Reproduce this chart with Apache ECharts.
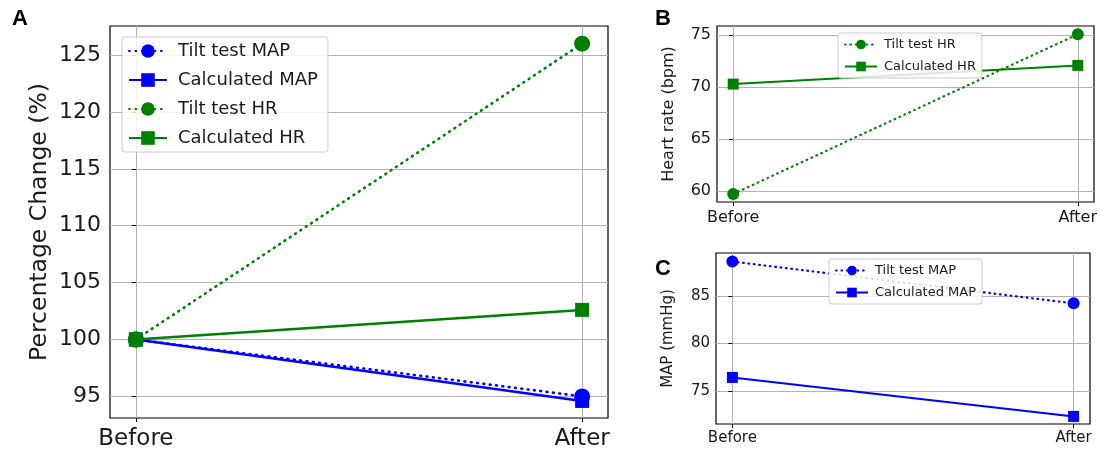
<!DOCTYPE html>
<html><head><meta charset="utf-8">
<script src="https://cdn.jsdelivr.net/npm/echarts@6/dist/echarts.min.js"></script>
<style>html,body{margin:0;padding:0;background:#fff}#c{width:1100px;height:458px}</style>
</head><body><div id="c"></div>
<script>
// ---- data ----
const categories = ['Before', 'After'];
const labelTiltMAP = 'Tilt test MAP';
const labelCalcMAP = 'Calculated MAP';
const labelTiltHR = 'Tilt test HR';
const labelCalcHR = 'Calculated HR';

// Panel A: percentage change (%)
const pctTiltMAP = [100, 95.0];
const pctCalcMAP = [100, 94.6];
const pctTiltHR  = [100, 126.0];
const pctCalcHR  = [100, 102.6];
const pctTicks = [95, 100, 105, 110, 115, 120, 125];

// Panel B: heart rate (bpm)
const hrTilt = [59.7, 75.1];
const hrCalc = [70.3, 72.1];
const hrTicks = [60, 65, 70, 75];

// Panel C: MAP (mmHg)
const mapTilt = [88.6, 84.2];
const mapCalc = [76.4, 72.3];
const mapTicks = [75, 80, 85];

// ---- styling ----
const FONT = 'DejaVu Sans';
const BLUE = '#0000ff', GREEN = '#008000';
const TXT = '#1a1a1a';

function pts(vals) { return vals.map((v, i) => [i, v]); }

function xAxisCfg(gridIndex, m, fontSize, margin) {
  return {
    type: 'value', gridIndex, min: -m, max: 1 + m,
    axisLine: { show: false },
    axisTick: { show: true, length: 4, customValues: [0, 1], lineStyle: { color: '#000' } },
    axisLabel: { customValues: [0, 1], formatter: v => categories[Math.round(v)], fontFamily: FONT, fontSize, color: TXT, margin },
    splitLine: { show: true, lineStyle: { color: '#b4b4b4', width: 1 } }
  };
}
function yAxisCfg(gridIndex, min, max, ticks, fontSize, margin, name, nameSize, nameGap) {
  return {
    type: 'value', gridIndex, min, max,
    axisLine: { show: false },
    axisTick: { show: true, length: 4, customValues: ticks, lineStyle: { color: '#000' } },
    axisLabel: { customValues: ticks, fontFamily: FONT, fontSize, color: TXT, margin },
    splitLine: { show: true, lineStyle: { color: '#b4b4b4', width: 1 } },
    name, nameLocation: 'middle', nameRotate: 90, nameGap,
    nameTextStyle: { fontFamily: FONT, fontSize: nameSize, color: TXT }
  };
}
function ser(id, grid, vals, color, dotted, symbol, size, width) {
  return {
    type: 'line', name: id, xAxisIndex: grid, yAxisIndex: grid, data: pts(vals),
    symbol, symbolSize: size, showSymbol: true,
    lineStyle: { color, width, type: dotted ? [width * 0.35, width * 2.1] : 'solid', cap: dotted ? 'round' : 'butt' },
    itemStyle: { color },
    z: 2, animation: false
  };
}
const labelOf = {};
function reg(id, label) { labelOf[id] = label; return id; }

const series = [
  ser(reg('A1', labelTiltMAP), 0, pctTiltMAP, BLUE, true, 'circle', 16, 2.6),
  ser(reg('A2', labelCalcMAP), 0, pctCalcMAP, BLUE, false, 'rect', 14, 2.5),
  ser(reg('A3', labelTiltHR), 0, pctTiltHR, GREEN, true, 'circle', 16, 2.6),
  ser(reg('A4', labelCalcHR), 0, pctCalcHR, GREEN, false, 'rect', 14, 2.5),
  ser(reg('B1', labelTiltHR), 1, hrTilt, GREEN, true, 'circle', 12, 2.2),
  ser(reg('B2', labelCalcHR), 1, hrCalc, GREEN, false, 'rect', 11, 2),
  ser(reg('C1', labelTiltMAP), 2, mapTilt, BLUE, true, 'circle', 12, 2.2),
  ser(reg('C2', labelCalcMAP), 2, mapCalc, BLUE, false, 'rect', 11, 2)
];

function legendCfg(ids, left, top, fontSize, itemW, itemH, gap, padding, textPad) {
  return {
    orient: 'vertical', left, top, data: ids,
    formatter: n => labelOf[n],
    itemWidth: itemW, itemHeight: itemH, itemGap: gap,
    textStyle: { fontFamily: FONT, fontSize, color: TXT, padding: [0, 0, 0, textPad] },
    backgroundColor: 'rgba(255,255,255,0.85)', borderColor: '#cccccc', borderWidth: 1, borderRadius: 3,
    padding, selectedMode: false
  };
}

const gridStyle = { show: true, borderColor: '#000', borderWidth: 1.2, backgroundColor: 'transparent' };

const option = {
  animation: false,
  backgroundColor: '#fff',
  title: [
    { text: 'A', left: 7, top: 3, textStyle: { fontFamily: 'Liberation Sans', fontWeight: 'bold', fontSize: 22, color: '#000' } },
    { text: 'B', left: 650, top: 3, textStyle: { fontFamily: 'Liberation Sans', fontWeight: 'bold', fontSize: 22, color: '#000' } },
    { text: 'C', left: 650, top: 253, textStyle: { fontFamily: 'Liberation Sans', fontWeight: 'bold', fontSize: 22, color: '#000' } }
  ],
  grid: [
    Object.assign({ left: 110, top: 26, width: 498, height: 392 }, gridStyle),
    Object.assign({ left: 717, top: 26, width: 381, height: 176 }, gridStyle),
    Object.assign({ left: 716, top: 253, width: 374, height: 171 }, gridStyle)
  ],
  xAxis: [
    xAxisCfg(0, 0.058, 23, 10),
    xAxisCfg(1, 0.047, 16, 8),
    xAxisCfg(2, 0.048, 15, 7)
  ],
  yAxis: [
    yAxisCfg(0, 93.1, 127.55, pctTicks, 22, 9, 'Percentage Change (%)', 23.5, 58),
    yAxisCfg(1, 58.93, 75.9, hrTicks, 16, 6, 'Heart rate (bpm)', 16, 40),
    yAxisCfg(2, 71.5, 89.5, mapTicks, 15, 6, 'MAP (mmHg)', 15, 40)
  ],
  legend: [
    legendCfg(['A1', 'A2', 'A3', 'A4'], 122, 37, 18, 38, 17, 11, [5, 10, 5, 6], 6),
    legendCfg(['B1', 'B2'], 838, 33, 13, 32, 12, 9, [5, 6, 5, 6], 2),
    legendCfg(['C1', 'C2'], 829, 259, 13, 32, 12, 9, [5, 6, 5, 6], 2)
  ],
  series
};

const chart = echarts.init(document.getElementById('c'), null, { renderer: 'canvas' });
chart.setOption(option);
</script>
</body></html>
